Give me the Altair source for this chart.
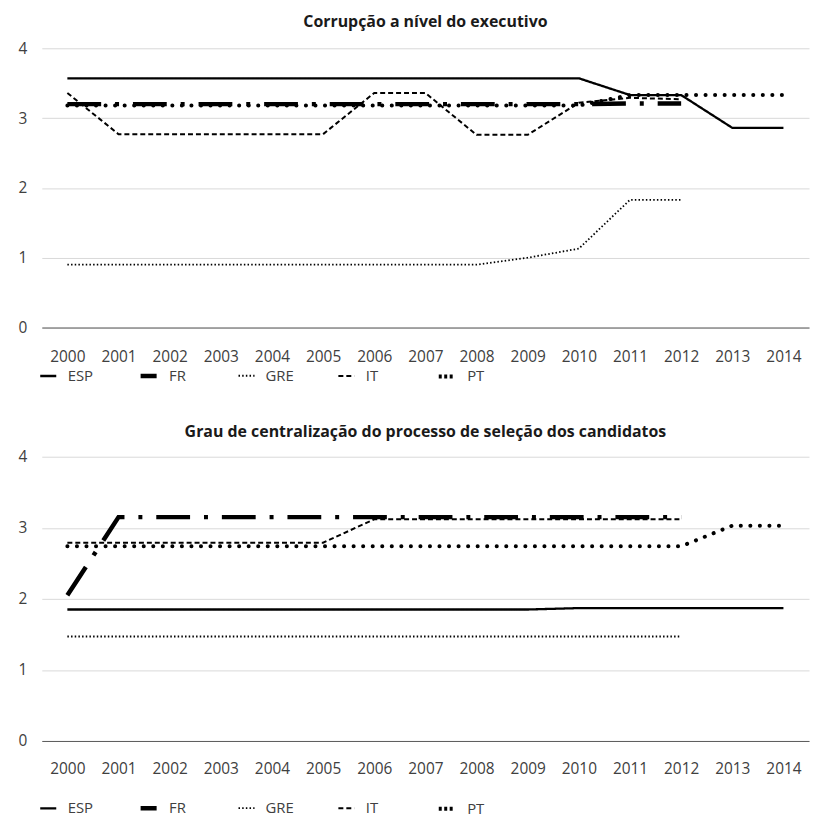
import altair as alt
import pandas as pd

years = [2000, 2001, 2002, 2003, 2004, 2005, 2006, 2007, 2008, 2009, 2010, 2011, 2012, 2013, 2014]
series = ["ESP", "FR", "GRE", "IT", "PT"]

title_top = "Corrupção a nível do executivo"
title_bottom = "Grau de centralização do processo de seleção dos candidatos"

# Panel 1: Corrupção a nível do executivo
esp_top = [3.57, 3.57, 3.57, 3.57, 3.57, 3.57, 3.57, 3.57, 3.57, 3.57, 3.57, 3.33, 3.33, 2.86, 2.86]
fr_top = [3.20, 3.20, 3.20, 3.20, 3.20, 3.20, 3.20, 3.20, 3.20, 3.20, 3.20, 3.21, 3.21, None, None]
gre_top = [0.90, 0.90, 0.90, 0.90, 0.90, 0.90, 0.90, 0.90, 0.90, 1.00, 1.13, 1.83, 1.83, None, None]
it_top = [3.36, 2.77, 2.77, 2.77, 2.77, 2.77, 3.36, 3.36, 2.76, 2.76, 3.22, 3.29, 3.27, None, None]
pt_top = [3.18, 3.18, 3.18, 3.18, 3.18, 3.18, 3.18, 3.18, 3.18, 3.18, 3.18, 3.33, 3.33, 3.33, 3.33]

# Panel 2: Grau de centralização do processo de seleção dos candidatos
esp_bot = [1.85, 1.85, 1.85, 1.85, 1.85, 1.85, 1.85, 1.85, 1.85, 1.85, 1.87, 1.87, 1.87, 1.87, 1.87]
fr_bot = [2.05, 3.15, 3.15, 3.15, 3.15, 3.15, 3.15, 3.15, 3.15, 3.15, 3.15, 3.15, 3.15, None, None]
gre_bot = [1.47, 1.47, 1.47, 1.47, 1.47, 1.47, 1.47, 1.47, 1.47, 1.47, 1.47, 1.47, 1.47, None, None]
it_bot = [2.79, 2.79, 2.79, 2.79, 2.79, 2.79, 3.12, 3.12, 3.12, 3.12, 3.12, 3.12, 3.12, None, None]
pt_bot = [2.74, 2.74, 2.74, 2.74, 2.74, 2.74, 2.74, 2.74, 2.74, 2.74, 2.74, 2.74, 2.74, 3.03, 3.03]

y_ticks = [0, 1, 2, 3, 4]

dash_range = [[1, 0], [1, 0], [1.5, 2.2], [5, 3], [3, 2.5]]
width_range = [2.3, 4.5, 1.8, 2, 4]

FONT = "Open Sans"


def long_df(cols):
    rows = []
    for s, vals in zip(series, cols):
        for yr, v in zip(years, vals):
            if v is not None:
                rows.append({"ano": str(yr), "pais": s, "valor": v})
    return pd.DataFrame(rows)


def panel(title, cols, height, legend_y, title_offset, label_pad):
    df = long_df(cols)
    x = alt.X("ano:O", title=None,
              scale=alt.Scale(domain=[str(y) for y in years]),
              axis=alt.Axis(labelAngle=0, ticks=False, domain=True, domainColor="#595959",
                            domainWidth=1, labelPadding=label_pad, grid=False))
    y = alt.Y("valor:Q", title=None,
              scale=alt.Scale(domain=[0, 4], nice=False),
              axis=alt.Axis(values=y_ticks, ticks=False, domain=False, grid=True,
                            gridColor="#d9d9d9", labelPadding=15, format="d"))
    base = alt.Chart(df).encode(x=x, y=y)
    leg = alt.Legend(orient="none", legendX=-3, legendY=legend_y, direction="horizontal", title=None,
                     symbolType="stroke", symbolSize=260, symbolStrokeColor="black",
                     columnPadding=36, gridAlign="all",
                     labelFont=FONT, labelFontSize=15, labelColor="#404040", labelOffset=10)
    main = base.transform_filter(
        "datum.pais == 'ESP' || datum.pais == 'GRE' || datum.pais == 'IT'"
    ).mark_line(color="black").encode(
        strokeDash=alt.StrokeDash("pais:N", scale=alt.Scale(domain=series, range=dash_range), legend=leg),
        strokeWidth=alt.StrokeWidth("pais:N", scale=alt.Scale(type="ordinal", domain=series, range=width_range), legend=leg),
    )
    fr = base.transform_filter("datum.pais == 'FR'").mark_line(
        color="black", strokeWidth=4.5, strokeDash=[34, 14, 4, 14])
    pt = base.transform_filter("datum.pais == 'PT'").mark_line(
        color="black", strokeWidth=4, strokeDash=[0.1, 9.5], strokeCap="round")
    return alt.layer(main, fr, pt).properties(
        width=772, height=height,
        title=alt.TitleParams(title, font=FONT, fontSize=16, fontWeight="bold", color="#1a1a1a",
                              anchor="middle", offset=title_offset),
    )


top = panel(title_top, [esp_top, fr_top, gre_top, it_top, pt_top], 281, 319, 11, 22)
bottom = panel(title_bottom, [esp_bot, fr_bot, gre_bot, it_bot, pt_bot], 286, 343, 10, 21)

chart = alt.vconcat(top, bottom, spacing=39).resolve_scale(
    strokeDash="independent", strokeWidth="independent"
).resolve_legend(
    strokeDash="independent", strokeWidth="independent"
).properties(
    padding={"left": 10, "top": 4, "right": 2, "bottom": 0}
).configure_view(stroke=None).configure_axis(
    labelFont=FONT, labelFontSize=15.5, labelColor="#404040"
)

chart.save("out.html", embed_options={"renderer": "svg", "actions": False})
